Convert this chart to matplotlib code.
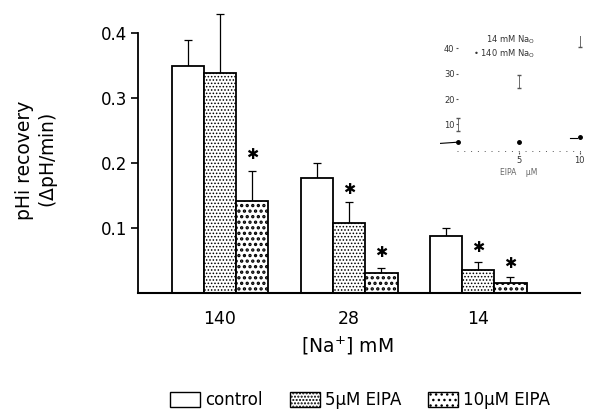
import numpy as np
import matplotlib
matplotlib.use("Agg")
import matplotlib.pyplot as plt
from matplotlib.patches import Patch

plt.rcParams["font.family"] = ["DejaVu Sans"]

# ------------------------------------------------------
# DATA
# ------------------------------------------------------
groups = ["140", "28", "14"]
series = ["control", "5µM EIPA", "10µM EIPA"]

control = [0.349, 0.177, 0.087]
control_err = [0.039, 0.022, 0.013]
eipa5 = [0.338, 0.107, 0.036]
eipa5_err = [0.091, 0.032, 0.011]
eipa10 = [0.142, 0.031, 0.016]
eipa10_err = [0.046, 0.007, 0.008]

# significance stars (series index, group index, y)
stars = [(2, 0, 0.213), (1, 1, 0.159), (2, 1, 0.062), (1, 2, 0.070), (2, 2, 0.045)]

# inset: pHi recovery vs EIPA concentration
inset_x = [0, 5, 10]
inset_140 = [3, 3, 5]
inset_14 = [10, 27, 43]
inset_yticks = [10, 20, 30, 40]
inset_xticks = [5, 10]

# ------------------------------------------------------
# MAIN PLOT
# ------------------------------------------------------
fig = plt.figure(figsize=(6.0, 4.15), dpi=100)
ax = fig.add_axes([0.23, 0.294, 0.737, 0.706])

x = np.arange(len(groups))
w = 0.25
hatches = [None, ".....", "..."]
hatch_lw = [1.0, 0.7, 1.6]
values = [control, eipa5, eipa10]
errors = [control_err, eipa5_err, eipa10_err]

for i, (vals, errs) in enumerate(zip(values, errors)):
    with plt.rc_context({"hatch.linewidth": hatch_lw[i]}):
        ax.bar(x + (i - 1) * w, vals, width=w, color="white",
               edgecolor="black", linewidth=1.3, hatch=hatches[i], zorder=2)
    ax.errorbar(x + (i - 1) * w, vals, yerr=[np.zeros(len(errs)), errs],
                fmt="none", ecolor="black", elinewidth=0.9, capsize=3,
                capthick=0.9, zorder=1)

for s, g, yv in stars:
    ax.text(x[g] + (s - 1) * w, yv, "✱", ha="center", va="center",
            fontsize=10.5, color="black")

ax.set_xlim(-0.635, 2.79)
ax.set_ylim(0, 0.45)
ax.spines["top"].set_visible(False)
ax.spines["right"].set_visible(False)
ax.spines["left"].set_bounds(0, 0.4)
ax.spines["left"].set_linewidth(1.3)
ax.spines["bottom"].set_linewidth(1.5)

ax.set_yticks([0.1, 0.2, 0.3, 0.4])
ax.set_yticklabels(["0.1", "0.2", "0.3", "0.4"], fontsize=12)
ax.set_xticks(x)
ax.set_xticklabels(groups, fontsize=12.5)
ax.tick_params(axis="x", length=0, pad=12)
ax.tick_params(axis="y", length=5, width=1.2, direction="out", pad=3)

ax.set_ylabel("pHi recovery\n($\\mathit{\\Delta}$pH/min)", fontsize=13.5,
              linespacing=1.15)
ax.yaxis.set_label_coords(-0.177, 0.453)
ax.set_xlabel("[Na$^{+}$] mM", fontsize=13.5)
ax.xaxis.set_label_coords(0.473, -0.143)

# ------------------------------------------------------
# INSET
# ------------------------------------------------------
grey = "#555555"
ins = fig.add_axes([0.733, 0.633, 0.243, 0.281])
ins.patch.set_alpha(0)
for sp in ins.spines.values():
    sp.set_visible(False)
ins.spines["left"].set_position(("data", 0))
ins.set_xlim(-1.5, 10.5)
ins.set_ylim(-1, 45)
ins.axhline(-0.5, xmin=0.12, xmax=0.98, color=grey, lw=0.7, ls=(0, (1, 6)))
ins.plot([-1.5, 0], [2.5, 3], color="black", lw=0.8)
ins.plot([9.2, 9.8], [4.5, 4.5], color="black", lw=0.8)
ins.plot(inset_x, inset_140, "o", color="black", ms=2.5, ls="none")
ins.errorbar(inset_x, inset_14, yerr=2.5, fmt="none", ecolor=grey,
             elinewidth=0.6, capsize=1.2)
ins.set_yticks(inset_yticks)
ins.set_xticks(inset_xticks)
ins.tick_params(labelsize=6, labelcolor="#333333", length=1.5,
                width=0.8, color=grey, pad=1)
ins.text(2.3, 43.5, "14 mM Na$_\\mathrm{O}$", fontsize=6, color="#333333",
         ha="left", va="center")
ins.text(1.2, 38, "• 140 mM Na$_\\mathrm{O}$", fontsize=6, color="#333333",
         ha="left", va="center")
ins.text(5.0, -9, "EIPA    µM", fontsize=5.5, color="#666666",
         ha="center", va="center")

# ------------------------------------------------------
# LEGEND
# ------------------------------------------------------
handles = []
for i, lab in enumerate(series):
    with plt.rc_context({"hatch.linewidth": hatch_lw[i]}):
        handles.append(Patch(facecolor="white", edgecolor="black",
                             linewidth=1.0, hatch=hatches[i], label=lab))
fig.legend(handles=handles, loc="center", bbox_to_anchor=(0.6, 0.036),
           ncol=3, frameon=False, fontsize=12, handlelength=1.8,
           handleheight=1.0, handletextpad=0.3, columnspacing=1.6)

fig.savefig("out.png", dpi=100)
